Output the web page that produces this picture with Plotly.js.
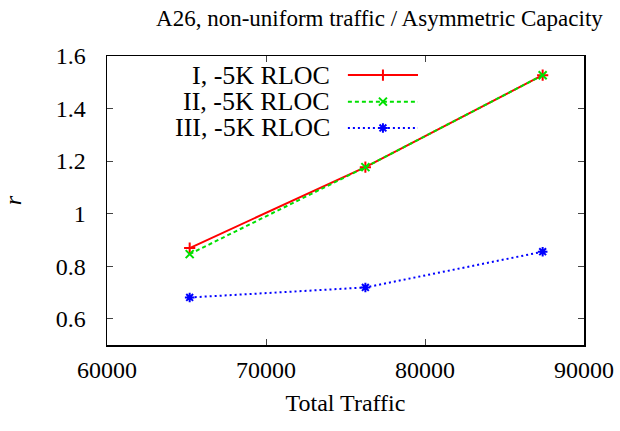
<!DOCTYPE html>
<html>
<head>
<meta charset="utf-8">
<script src="https://cdn.plot.ly/plotly-3.0.1.min.js"></script>
<style>html,body{margin:0;padding:0;background:#fff;}#chart{width:620px;height:431px;}</style>
</head>
<body>
<div id="chart"></div>
<script>
// Data
const totalTraffic = [65200, 76250, 87400];
const seriesNames = ["I, -5K RLOC", "II, -5K RLOC", "III, -5K RLOC"];
const rI   = [0.869, 1.177, 1.527];
const rII  = [0.846, 1.177, 1.527];
const rIII = [0.681, 0.719, 0.855];
const xTicks = [60000, 70000, 80000, 90000];
const yTicks = [0.6, 0.8, 1.0, 1.2, 1.4, 1.6];
const yTickLabels = ["0.6", "0.8", "1", "1.2", "1.4", "1.6"];

const font = "Liberation Serif";
const styles = [
  {color: "#ff0000", dash: "solid", symbol: "cross-thin-open", size: 8},
  {color: "#00e000", dash: "4px,3px", symbol: "x-thin-open", size: 8},
  {color: "#0000ff", dash: "2px,3px", symbol: "asterisk-open", size: 8}
];
const seriesY = [rI, rII, rIII];

const traces = seriesY.map((ys, i) => ({
  x: totalTraffic, y: ys, type: "scatter", mode: "lines+markers",
  name: seriesNames[i], showlegend: false,
  line: {color: styles[i].color, width: 2, dash: styles[i].dash},
  marker: {symbol: styles[i].symbol, size: styles[i].size, color: styles[i].color,
           line: {color: styles[i].color, width: 2}}
}));

// gnuplot-style key: text on the left, sample on the right (drawn on an overlay axis 0..1)
const keyTextX = 0.472, keyLineX0 = 0.505, keyLineX1 = 0.652;
const keyRows = [0.934, 0.842, 0.751];
const annotations = [];
seriesNames.forEach((n, i) => {
  traces.push({
    x: [keyLineX0, (keyLineX0 + keyLineX1) / 2, keyLineX1], y: [keyRows[i], keyRows[i], keyRows[i]],
    xaxis: "x2", yaxis: "y2", type: "scatter", mode: "lines", showlegend: false, hoverinfo: "skip",
    line: {color: styles[i].color, width: 2, dash: styles[i].dash}
  });
  traces.push({
    x: [(keyLineX0 + keyLineX1) / 2], y: [keyRows[i]],
    xaxis: "x2", yaxis: "y2", type: "scatter", mode: "markers", showlegend: false, hoverinfo: "skip",
    marker: {symbol: styles[i].symbol, size: styles[i].size, color: styles[i].color,
             line: {color: styles[i].color, width: 2}}
  });
  annotations.push({
    xref: "paper", yref: "paper", x: keyTextX, y: keyRows[i], xanchor: "right", yanchor: "middle",
    text: n, showarrow: false, font: {family: font, size: 26, color: "#000"}
  });
});

const layout = {
  width: 620, height: 431,
  margin: {l: 107, r: 36, t: 56, b: 86},
  paper_bgcolor: "#fff", plot_bgcolor: "#fff",
  font: {family: font, color: "#000"},
  title: {text: "A26, non-uniform traffic / Asymmetric Capacity", font: {family: font, size: 23, color: "#000"},
          x: 0.612, xref: "container", xanchor: "center", y: 0.958, yref: "container", yanchor: "middle"},
  xaxis: {
    range: [60000, 90000], tickvals: xTicks, ticktext: xTicks.map(String),
    ticks: "inside", ticklen: 6, tickcolor: "#444", tickwidth: 1, mirror: "allticks",
    showline: true, linecolor: "#000", linewidth: 1.5, showgrid: false, zeroline: false,
    tickfont: {family: font, size: 24, color: "#000"}, ticklabelstandoff: 3,
    title: {text: "Total Traffic", font: {family: font, size: 24, color: "#000"}, standoff: 12}
  },
  yaxis: {
    range: [0.5, 1.6], tickvals: yTicks, ticktext: yTickLabels,
    ticks: "inside", ticklen: 6, tickcolor: "#444", tickwidth: 1, mirror: "allticks",
    showline: true, linecolor: "#000", linewidth: 1.5, showgrid: false, zeroline: false,
    tickfont: {family: font, size: 24, color: "#000"}, ticklabelstandoff: 15,
    title: {text: "<i>r</i>", font: {family: font, size: 24, color: "#000"}, standoff: 29}
  },
  xaxis2: {overlaying: "x", range: [0, 1], visible: false, fixedrange: true},
  yaxis2: {overlaying: "y", range: [0, 1], visible: false, fixedrange: true},
  annotations: annotations,
  showlegend: false
};

Plotly.newPlot("chart", traces, layout, {staticPlot: true, displayModeBar: false});
</script>
</body>
</html>
